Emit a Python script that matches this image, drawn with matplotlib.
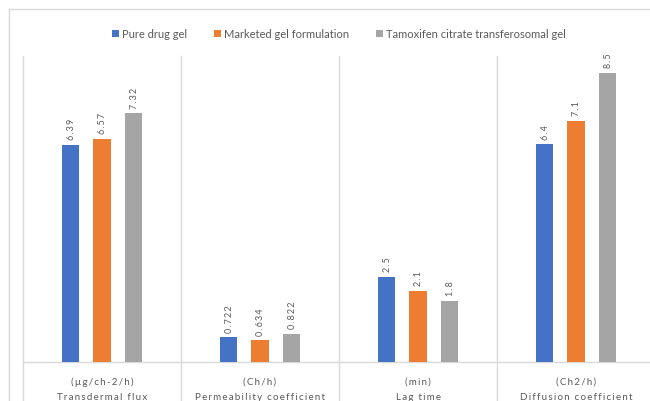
import matplotlib
matplotlib.use("Agg")
import matplotlib.pyplot as plt
from matplotlib.lines import Line2D
from matplotlib.patches import Patch
import numpy as np

categories = ["Transdermal flux", "Permeability coefficient", "Lag time", "Diffusion coefficient"]
units = ["(µg/ch-2/h)", "(Ch/h)", "(min)", "(Ch2/h)"]
series_names = ["Pure drug gel", "Marketed gel formulation", "Tamoxifen citrate transferosomal gel"]
pure_drug = [6.39, 0.722, 2.5, 6.4]
marketed = [6.57, 0.634, 2.1, 7.1]
transferosomal = [7.32, 0.822, 1.8, 8.5]
value_labels = [["6.39", "0.722", "2.5", "6.4"],
                ["6.57", "0.634", "2.1", "7.1"],
                ["7.32", "0.822", "1.8", "8.5"]]

colors = ["#4472C4", "#ED7D31", "#A5A5A5"]
text_color = "#595959"
grid_color = "#D9D9D9"
FONT = ["Lato", "DejaVu Sans"]


def spaced(s, gap="\u2009"):
    return gap.join(s)


W, H = 650, 402
fig = plt.figure(figsize=(W / 100, H / 100), dpi=100)

# chart frame (top and left edges)
fig.add_artist(Line2D([9 / W, 9 / W], [0, 1 - 10 / H], color=grid_color, lw=1.0))
fig.add_artist(Line2D([9 / W, 1.0], [1 - 10 / H, 1 - 10 / H], color=grid_color, lw=1.0))

left, right = 23 / W, 655 / W
bottom, top = 1 - 363 / H, 1 - 57 / H
ax = fig.add_axes([left, bottom, right - left, top - bottom])

x = np.arange(len(categories))
offset, width = 0.2, 0.108
all_series = [pure_drug, marketed, transferosomal]
for i, (vals, c) in enumerate(zip(all_series, colors)):
    pos = x + (i - 1) * offset
    ax.bar(pos, vals, width=width, color=c, zorder=3)
    for p, v, lab in zip(pos, vals, value_labels[i]):
        ax.annotate(spaced(lab), (p, v), xytext=(0.5, 4), textcoords="offset points",
                    rotation=90, ha="center", va="bottom", fontsize=6.5,
                    color=text_color, family=FONT)

ax.set_xlim(-0.5, len(categories) - 0.5)
ax.set_ylim(0, 9)
ax.set_xticks([])
ax.set_yticks([])
for s in ["top", "right", "left"]:
    ax.spines[s].set_visible(False)
ax.spines["bottom"].set_color(grid_color)
ax.spines["bottom"].set_linewidth(1.0)

# category dividers running down through the label area
span = 363 - 57
trans = ax.get_xaxis_transform()
for b in np.arange(len(categories) + 1) - 0.5:
    ax.plot([b, b], [1, -(H - 363) / span], transform=trans, color=grid_color,
            lw=1.0, clip_on=False, zorder=1)

for xi, (cat, u) in enumerate(zip(categories, units)):
    ax.text(xi, -(382 - 363) / span, spaced(u), transform=trans, ha="center",
            va="center", fontsize=7, color=text_color, family=FONT)
    ax.text(xi, -(397 - 363) / span, spaced(cat), transform=trans, ha="center",
            va="center", fontsize=7, color=text_color, family=FONT)

handles = [Patch(facecolor=c, edgecolor="none") for c in colors]
fig.legend(handles, series_names, loc="center", bbox_to_anchor=(339 / W, 1 - 35 / H),
           ncol=3, frameon=False, handlelength=0.6, handleheight=0.6,
           handletextpad=0.3, columnspacing=2.4, labelcolor=text_color,
           prop={"family": FONT, "size": 8})

fig.savefig("out.png", dpi=100)
